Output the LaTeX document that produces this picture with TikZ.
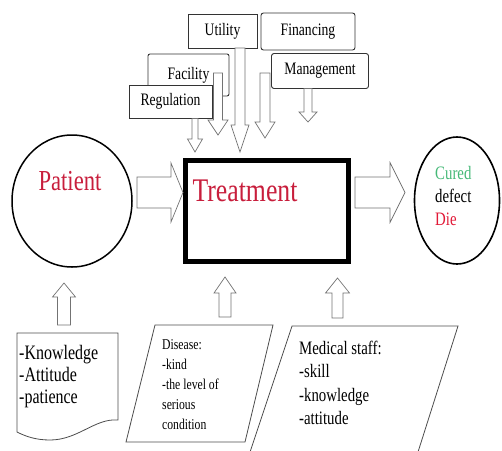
\documentclass[tikz,border=0pt]{standalone}
\usepackage{fontspec}
\setmainfont{Liberation Serif}[FakeStretch=0.78]
\usepackage{tikz}
\usetikzlibrary{positioning,calc,shapes.geometric}
\definecolor{tx-red}{RGB}{200,30,60}
\definecolor{tx-green}{RGB}{70,185,120}
\definecolor{tx-die}{RGB}{225,25,55}
\definecolor{ar-gray}{RGB}{115,115,115}
\tikzset{
  topbox/.style={draw=black!80, fill=white, line width=0.9pt, inner sep=0pt,
    font=\fontsize{17.5}{20}\selectfont},
  blockarrow/.style={draw=ar-gray, fill=white, line width=0.7pt, line join=miter},
  docline/.style={draw=black!70, line width=0.8pt},
  listtext/.style={align=left, inner sep=0pt, anchor=west},
}
% hollow block arrow: from, to, half shaft, half head, head length
\newcommand{\hollowarrow}[5]{%
  \coordinate (ha) at ($(#2)!#5!(#1)$);
  \draw[blockarrow] ($(#1)!#3!90:(#2)$) -- ($(ha)!#3!-90:(#1)$)
    -- ($(ha)!#4!-90:(#1)$) -- (#2) -- ($(ha)!#4!90:(#1)$)
    -- ($(ha)!#3!90:(#1)$) -- ($(#1)!#3!-90:(#2)$) -- cycle;}
\begin{document}
\begin{tikzpicture}[x=1pt,y=-1pt]
    \useasboundingbox (0,0) rectangle (502,450);
    \clip (0,0) rectangle (502,450);
    % factors on top
    \node[topbox, minimum width=69pt, minimum height=34pt] (utility) at (222.5,31) {Utility};
    \node[topbox, rounded corners=2.5pt, minimum width=94pt, minimum height=37pt] (financing) at (308,31.5) {Financing};
    \node[topbox, rounded corners=2pt, minimum width=81pt, minimum height=42pt] (facility) at (188.5,75) {Facility};
    \node[topbox, rounded corners=2.5pt, minimum width=97pt, minimum height=35pt] (management) at (320,71) {Management};
    \node[topbox, minimum width=83pt, minimum height=33pt] (regulation) at (170.5,101.5) {Regulation};
    % main chain
    \node[draw, ellipse, line width=1.5pt, minimum width=120pt, minimum height=132pt, inner sep=0pt] (patient) at (72,201) {};
    \node[text=tx-red, font=\fontsize{29}{32}\selectfont] (patient-lbl) at (70,181) {Patient};
    \node[draw, line width=5pt, minimum width=163pt, minimum height=101pt, inner sep=0pt] (treat) at (267,211) {};
    \node[text=tx-red, font=\fontsize{33}{36}\selectfont] (treat-lbl) at (245,191) {Treatment};
    \node[draw, ellipse, line width=1.6pt, minimum width=85pt, minimum height=127pt, inner sep=0pt] (outcome) at (457,200.5) {};
    \node[listtext, font=\fontsize{19}{23}\selectfont] (outcome-lbl) at (435,196)
        {\textcolor{tx-green}{Cured}\\defect\\\textcolor{tx-die}{Die}};
    % input boxes
    \draw[docline] (17,333) -- (118,333) -- (118,420) .. controls (95,418) and (78,440) .. (50,440)
        .. controls (35,440) and (25,436) .. (17,432) -- cycle;
    \node[listtext, font=\fontsize{20.5}{22}\selectfont] (knowledge) at (19,377)
        {-Knowledge\\-Attitude\\-patience};
    \draw[docline] (155,325) -- (273,325) -- (245,442) -- (126,442) -- cycle;
    \node[listtext, font=\fontsize{15}{20}\selectfont] (disease) at (162,385)
        {Disease:\\-kind\\-the level of\\serious\\condition};
    \draw[docline] (250,452) -- (292,326) -- (458,326) -- (418,452);
    \node[listtext, font=\fontsize{19}{23.5}\selectfont] (staff) at (299,383)
        {Medical staff:\\-skill\\-knowledge\\-attitude};
    % arrow ends
    \coordinate (reg-s) at (195,118.5);   \coordinate (reg-t) at (195,152);
    \coordinate (fac-s) at (218,73);      \coordinate (fac-t) at (218,135);
    \coordinate (uti-s) at (240,48);      \coordinate (uti-t) at (240,152);
    \coordinate (fin-s) at (265,73);      \coordinate (fin-t) at (265,138);
    \coordinate (man-s) at (308,88.5);    \coordinate (man-t) at (308,122);
    \coordinate (pat-s) at (137,192.5);   \coordinate (treat-in) at (treat.west |- pat-s);
    \coordinate (treat-out) at (355,192.5); \coordinate (out-in) at (405,192.5);
    \coordinate (kno-s) at (64,325);      \coordinate (kno-t) at (64,283);
    \coordinate (dis-s) at (225,317);     \coordinate (dis-t) at (225,277);
    \coordinate (med-s) at (337.5,318);   \coordinate (med-t) at (337.5,278);
    % block arrows
    \hollowarrow{reg-s}{reg-t}{3pt}{7.5pt}{13pt}
    \hollowarrow{fac-s}{fac-t}{4.5pt}{10pt}{15pt}
    \hollowarrow{uti-s}{uti-t}{5pt}{9pt}{27pt}
    \hollowarrow{fin-s}{fin-t}{5pt}{10pt}{16pt}
    \hollowarrow{man-s}{man-t}{4pt}{9pt}{10pt}
    \hollowarrow{pat-s}{treat-in}{15.5pt}{29.5pt}{12pt}
    \hollowarrow{treat-out}{out-in}{15.5pt}{30pt}{15pt}
    \hollowarrow{kno-s}{kno-t}{6.5pt}{11.5pt}{14pt}
    \hollowarrow{dis-s}{dis-t}{6pt}{11pt}{16pt}
    \hollowarrow{med-s}{med-t}{5.5pt}{12pt}{15pt}
\end{tikzpicture}
\end{document}
